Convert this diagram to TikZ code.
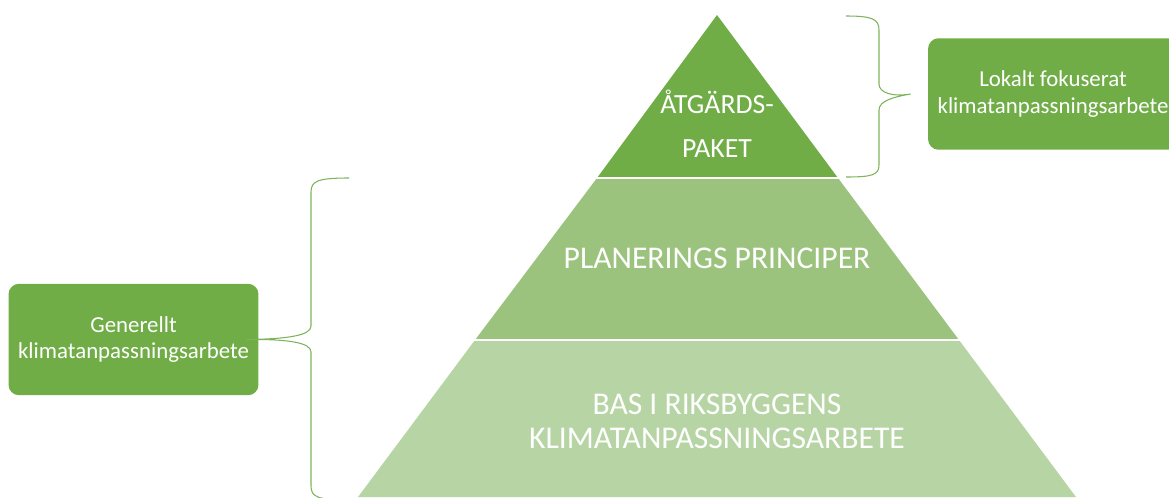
\documentclass[tikz,border=0pt]{standalone}
\usepackage{fontspec}
\setmainfont{Carlito}
\usetikzlibrary{positioning}
\definecolor{topgreen}{HTML}{70AD47}
\definecolor{midgreen}{HTML}{9BC37E}
\definecolor{basegreen}{HTML}{B7D5A4}
\definecolor{bracegreen}{HTML}{7DB35A}

\begin{document}
\begin{tikzpicture}[x=0.02cm, y=-0.02cm,
    layertext/.style={text=white, align=center, font=\fontsize{15.8}{21}\selectfont},
    sidebox/.style={rectangle, rounded corners=6pt, fill=topgreen, text=white, align=center,
        minimum width=5cm, minimum height=2.23cm, font=\fontsize{13}{15}\selectfont},
    brace/.style={bracegreen, line width=0.6pt}]
                \useasboundingbox (0,0) rectangle (1169,497);

                % Pyramid layers
                \fill[basegreen] (475,340) -- (959,340) -- (1076,497) -- (358,497) -- cycle;
                \fill[midgreen] (597,178) -- (838,178) -- (959,340) -- (475,340) -- cycle;
                \fill[topgreen] (717,15) -- (838,178) -- (597,178) -- cycle;
                \draw[white, line width=1pt] (590,178) -- (842,178);
                \draw[white, line width=1pt] (468,340) -- (966,340);

                % Layer labels
                \node[layertext] (atg) at (717,124) {ÅTGÄRDS-\\[4pt]PAKET};
                \node[layertext, font=\fontsize{18}{20}\selectfont] (plan) at (717,258) {PLANERINGS PRINCIPER};
                \node[layertext, font=\fontsize{18}{19.5}\selectfont] (bas) at (717,421) {BAS I RIKSBYGGENS\\KLIMATANPASSNINGSARBETE};

                % Side boxes
                \node[sidebox] (lokal) at (1053,94) {Lokalt fokuserat\\klimatanpassningsarbete};
                \node[sidebox] (gen) at (133.5,339.5) {Generellt\\klimatanpassningsarbete};

                % Braces
                \draw[brace] (846,16) .. controls (872,16) and (879,19) .. (879,30) -- (879,84)
                    .. controls (879,93) and (893,97) .. ([xshift=-0.34cm]lokal.west)
                    .. controls (893,97) and (879,101) .. (879,110) -- (879,165)
                    .. controls (879,175) and (872,177) .. (846,177);
                \draw[brace] (349,178) .. controls (318,178) and (311,181) .. (311,192) -- (311,326)
                    .. controls (311,335) and (290,339) .. ([xshift=-0.24cm]gen.east)
                    .. controls (290,339) and (311,343) .. (311,352) -- (311,486)
                    .. controls (311,497) and (318,500) .. (349,500);
            \end{tikzpicture}
\end{document}
